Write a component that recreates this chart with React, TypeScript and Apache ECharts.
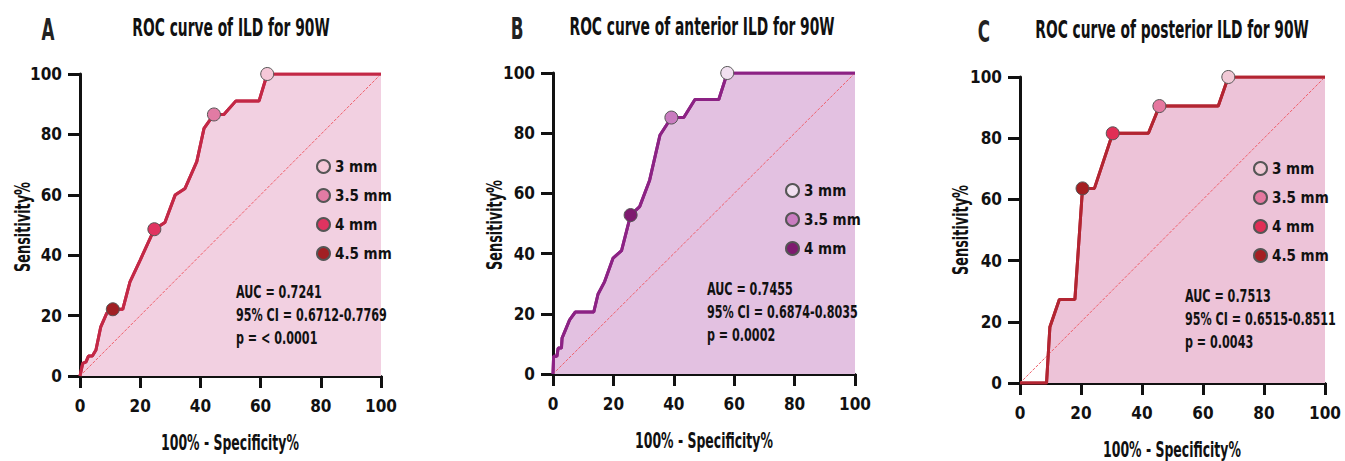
import React, { useEffect, useRef } from "react";
import * as echarts from "echarts";

// ---- data ----
const curveA: number[][] = [[0,0],[0.9,4.2],[2,4.7],[2.8,6.6],[4.1,6.6],[5.3,8.6],[6.9,16.3],[8.9,20.8],[10.9,22.1],[14.2,22.1],[16.6,31.2],[20,38.4],[24.7,48.6],[28.2,50.8],[31.6,59.9],[34.9,62.1],[38.8,71],[41.2,82],[44.5,86.6],[47.8,86.6],[51.8,91.1],[59.5,91.1],[62.2,100],[100,100]];
const curveB: number[][] = [[0,0],[0.2,5.9],[1.3,5.9],[1.7,8.6],[2.8,8.6],[3,11.9],[5.5,18],[7.4,20.6],[13.5,20.6],[14.9,26.5],[17.1,30.7],[19.9,38.5],[22.7,41],[25.7,52.8],[28.7,55.6],[32,64.4],[35.4,79.3],[39.2,85.2],[43.3,85.2],[47,91.2],[54.9,91.2],[57.7,100],[100,100]];
const curveC: number[][] = [[0,0],[8.7,0],[9.8,18.3],[12.9,27.3],[18,27.3],[20.5,63.6],[24.4,63.6],[30.4,81.6],[42.1,81.6],[45.7,90.5],[65,90.5],[68.3,100],[100,100]];

const namesA = ["3 mm", "3.5 mm", "4 mm", "4.5 mm"];
const pointsA: number[][] = [[62.2,100],[44.5,86.6],[24.7,48.6],[10.9,22.1]];
const namesB = ["3 mm", "3.5 mm", "4 mm"];
const pointsB: number[][] = [[57.7,100],[39.2,85.2],[25.7,52.8]];
const namesC = ["3 mm", "3.5 mm", "4 mm", "4.5 mm"];
const pointsC: number[][] = [[68.3,100],[45.7,90.5],[30.4,81.6],[20.5,63.6]];

const diagonal: number[][] = [[0,0],[100,100]];

const titles = ["ROC curve of ILD for 90W", "ROC curve of anterior ILD for 90W", "ROC curve of posterior ILD for 90W"];
const letters = ["A", "B", "C"];
const statsA = ["AUC = 0.7241", "95% CI = 0.6712-0.7769", "p = < 0.0001"];
const statsB = ["AUC = 0.7455", "95% CI = 0.6874-0.8035", "p = 0.0002"];
const statsC = ["AUC = 0.7513", "95% CI = 0.6515-0.8511", "p = 0.0043"];
const xName = "100% - Specificity%";
const yName = "Sensitivity%";

const FONT = "'DejaVu Sans Condensed', 'Liberation Sans Narrow', sans-serif";

interface Panel {
  id: string;
  curve: number[][];
  names: string[];
  points: number[][];
  stats: string[];
  line: string;
  fill: string;
  markerColors: string[];
  grid: { left: number; top: number; width: number; height: number };
  legend: { left: number; top: number };
  statsPos: { x: number; y: number };
  title: { x: number; y: number };
  letter: { x: number; y: number };
  xTitle: { x: number; y: number };
  yTitle: { x: number; y: number };
}

const panels: Panel[] = [
  {
    id: "A", curve: curveA, names: namesA, points: pointsA, stats: statsA,
    line: "#C32846", fill: "#F2D0E1",
    markerColors: ["#F5C8D8", "#E27BA4", "#E03360", "#A12024"],
    grid: { left: 80, top: 74, width: 301, height: 302 },
    legend: { left: 316, top: 159 },
    statsPos: { x: 236, y: 281 },
    title: { x: 231, y: 28 }, letter: { x: 48, y: 29 },
    xTitle: { x: 230, y: 442 }, yTitle: { x: 22, y: 227 },
  },
  {
    id: "B", curve: curveB, names: namesB, points: pointsB, stats: statsB,
    line: "#8C2284", fill: "#E3C1E1",
    markerColors: ["#F1E0F0", "#C97CC0", "#7E1A6F"],
    grid: { left: 553, top: 73, width: 302, height: 301 },
    legend: { left: 785, top: 183 },
    statsPos: { x: 707, y: 278 },
    title: { x: 702, y: 27 }, letter: { x: 517, y: 28 },
    xTitle: { x: 704, y: 440 }, yTitle: { x: 494, y: 225 },
  },
  {
    id: "C", curve: curveC, names: namesC, points: pointsC, stats: statsC,
    line: "#B32532", fill: "#EDC3D8",
    markerColors: ["#F1C9D6", "#E5779F", "#E02E55", "#A51F22"],
    grid: { left: 1020, top: 77, width: 305, height: 306 },
    legend: { left: 1253, top: 161 },
    statsPos: { x: 1185, y: 285 },
    title: { x: 1172, y: 30 }, letter: { x: 984, y: 31 },
    xTitle: { x: 1172, y: 449 }, yTitle: { x: 960, y: 230 },
  },
];

export default function App() {
  const ref = useRef<HTMLDivElement>(null);
  useEffect(() => {
    if (!ref.current) return;
    document.body.style.margin = "0";
    const chart = echarts.init(ref.current, null, { renderer: "svg" });

    const grids: any[] = [];
    const xAxes: any[] = [];
    const yAxes: any[] = [];
    const series: any[] = [];
    const legends: any[] = [];
    const graphics: any[] = [];

    const axisCommon = {
      type: "value",
      min: 0,
      max: 100,
      interval: 20,
      splitLine: { show: false },
      axisLine: { show: true, lineStyle: { color: "#111", width: 3 } },
      axisTick: { show: true, length: 12, lineStyle: { color: "#111", width: 3 } },
    };

    const addText = (x: number, y: number, text: string, font: string, opts: any = {}) => {
      graphics.push({
        type: "text",
        x,
        y,
        z: 100,
        scaleX: opts.scaleX ?? 0.7,
        rotation: opts.rotation ?? 0,
        style: {
          text,
          font,
          fill: opts.fill ?? "#111",
          align: opts.align ?? "center",
          verticalAlign: opts.verticalAlign ?? "middle",
          lineHeight: opts.lineHeight,
        },
      });
    };

    panels.forEach((p, i) => {
      grids.push({ ...p.grid });
      xAxes.push({
        ...axisCommon,
        gridIndex: i,
        axisLabel: { fontFamily: FONT, fontSize: 17, fontWeight: "bold", color: "#111", margin: 21 },
      });
      yAxes.push({
        ...axisCommon,
        gridIndex: i,
        axisLabel: { fontFamily: FONT, fontSize: 17, fontWeight: "bold", color: "#111", margin: 18 },
      });
      series.push({
        type: "line",
        name: p.id + "|curve",
        xAxisIndex: i,
        yAxisIndex: i,
        data: p.curve,
        showSymbol: false,
        symbol: "none",
        lineStyle: { color: p.line, width: 3 },
        areaStyle: { color: p.fill, opacity: 1 },
        z: 2,
      });
      series.push({
        type: "line",
        name: p.id + "|diag",
        xAxisIndex: i,
        yAxisIndex: i,
        data: diagonal,
        showSymbol: false,
        symbol: "none",
        lineStyle: { color: "#EF5F6A", width: 1, type: [3, 1.5] },
        z: 3,
      });
      series.push({
        type: "line",
        name: p.id + "|curveTop",
        xAxisIndex: i,
        yAxisIndex: i,
        data: p.curve,
        showSymbol: false,
        symbol: "none",
        lineStyle: { color: p.line, width: 3 },
        z: 4,
      });
      const legendNames: string[] = [];
      p.names.forEach((n, k) => {
        const sname = p.id + "|" + n;
        legendNames.push(sname);
        series.push({
          type: "scatter",
          name: sname,
          xAxisIndex: i,
          yAxisIndex: i,
          data: [p.points[k]],
          symbolSize: 13,
          itemStyle: { color: p.markerColors[k], borderColor: "#555", borderWidth: 1, opacity: 1 },
          z: 5,
        });
      });
      legends.push({
        data: legendNames,
        orient: "vertical",
        left: p.legend.left,
        top: p.legend.top,
        itemWidth: 13,
        itemHeight: 13,
        itemGap: 14,
        icon: "circle",
        padding: 0,
        selectedMode: false,
        formatter: (name: string) => name.slice(2),
        textStyle: { fontFamily: FONT, fontSize: 15, fontWeight: "bold", lineHeight: 14, color: "#111" },
      });
      addText(p.statsPos.x, p.statsPos.y, p.stats.join("\n"), `bold 17px ${FONT}`, {
        align: "left",
        verticalAlign: "top",
        lineHeight: 23,
        scaleX: 0.73,
      });
      addText(p.title.x, p.title.y, titles[i], `bold 24px ${FONT}`, { scaleX: 0.64 });
      addText(p.letter.x, p.letter.y, letters[i], `bold 31px ${FONT}`, { scaleX: 0.6, fill: "#222" });
      addText(p.xTitle.x, p.xTitle.y, xName, `bold 21px ${FONT}`, { scaleX: 0.66 });
      addText(p.yTitle.x, p.yTitle.y, yName, `bold 21px ${FONT}`, { scaleX: 0.68, rotation: Math.PI / 2 });
    });

    chart.setOption({
      animation: false,
      backgroundColor: "#fff",
      grid: grids,
      xAxis: xAxes,
      yAxis: yAxes,
      series,
      legend: legends,
      graphic: graphics,
    });
    return () => chart.dispose();
  }, []);
  return <div ref={ref} style={{ width: 1345, height: 461, position: "fixed", left: 0, top: 0 }} />;
}
